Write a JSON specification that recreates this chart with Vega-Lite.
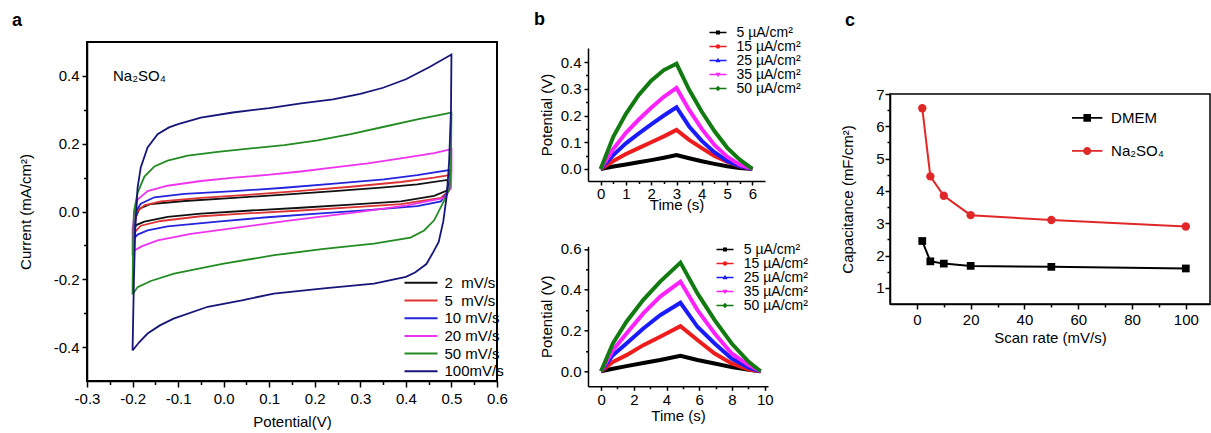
{
"$schema": "https://vega.github.io/schema/vega-lite/v6.json",
"background": "white",
"padding": {"left": 11, "top": 10, "right": 0, "bottom": 0},
"spacing": 25,
"columns": 3,
"config": {
 "font": "Liberation Sans",
 "view": {"stroke": null},
 "axis": {"grid": false, "domainColor": "#000", "domainWidth": 1.5, "tickColor": "#000", "tickWidth": 1.5, "labelColor": "#000", "titleColor": "#000", "labelFontSize": 15, "titleFontSize": 15, "titleFontWeight": "normal", "labelFont": "Liberation Sans", "titleFont": "Liberation Sans", "labelOverlap": false, "labelFlush": false},
 "legend": {"labelFont": "Liberation Sans", "labelFontSize": 15, "labelColor": "#000", "padding": 0, "offset": 0},
 "title": {"font": "Liberation Sans", "fontSize": 18, "fontWeight": "bold", "anchor": "start", "frame": "group", "color": "#000"}
},
"datasets": {
 "cv": [
  {"s":2,"o":0,"x":-0.196,"y":-0.05},{"s":2,"o":1,"x":-0.194,"y":-0.02},{"s":2,"o":2,"x":-0.185,"y":0.008},{"s":2,"o":3,"x":-0.16,"y":0.022},{"s":2,"o":4,"x":-0.086,"y":0.031},{"s":2,"o":5,"x":0.023,"y":0.04},{"s":2,"o":6,"x":0.133,"y":0.05},{"s":2,"o":7,"x":0.243,"y":0.06},{"s":2,"o":8,"x":0.352,"y":0.071},{"s":2,"o":9,"x":0.425,"y":0.08},{"s":2,"o":10,"x":0.491,"y":0.093},{"s":2,"o":11,"x":0.493,"y":0.08},{"s":2,"o":12,"x":0.49,"y":0.062},{"s":2,"o":13,"x":0.462,"y":0.046},{"s":2,"o":14,"x":0.389,"y":0.03},{"s":2,"o":15,"x":0.279,"y":0.02},{"s":2,"o":16,"x":0.169,"y":0.011},{"s":2,"o":17,"x":0.06,"y":0.003},{"s":2,"o":18,"x":-0.05,"y":-0.006},{"s":2,"o":19,"x":-0.123,"y":-0.016},{"s":2,"o":20,"x":-0.174,"y":-0.03},{"s":2,"o":21,"x":-0.192,"y":-0.04},{"s":2,"o":22,"x":-0.196,"y":-0.05},
  {"s":5,"o":0,"x":-0.196,"y":-0.062},{"s":5,"o":1,"x":-0.194,"y":-0.03},{"s":5,"o":2,"x":-0.19,"y":0.0},{"s":5,"o":3,"x":-0.174,"y":0.018},{"s":5,"o":4,"x":-0.138,"y":0.03},{"s":5,"o":5,"x":-0.05,"y":0.04},{"s":5,"o":6,"x":0.06,"y":0.05},{"s":5,"o":7,"x":0.169,"y":0.061},{"s":5,"o":8,"x":0.279,"y":0.073},{"s":5,"o":9,"x":0.389,"y":0.087},{"s":5,"o":10,"x":0.462,"y":0.1},{"s":5,"o":11,"x":0.499,"y":0.108},{"s":5,"o":12,"x":0.499,"y":0.09},{"s":5,"o":13,"x":0.495,"y":0.062},{"s":5,"o":14,"x":0.477,"y":0.04},{"s":5,"o":15,"x":0.389,"y":0.022},{"s":5,"o":16,"x":0.279,"y":0.012},{"s":5,"o":17,"x":0.169,"y":0.003},{"s":5,"o":18,"x":0.06,"y":-0.005},{"s":5,"o":19,"x":-0.05,"y":-0.014},{"s":5,"o":20,"x":-0.138,"y":-0.028},{"s":5,"o":21,"x":-0.182,"y":-0.042},{"s":5,"o":22,"x":-0.196,"y":-0.062},
  {"s":10,"o":0,"x":-0.197,"y":-0.08},{"s":10,"o":1,"x":-0.196,"y":-0.03},{"s":10,"o":2,"x":-0.193,"y":0.0},{"s":10,"o":3,"x":-0.182,"y":0.023},{"s":10,"o":4,"x":-0.152,"y":0.042},{"s":10,"o":5,"x":-0.086,"y":0.052},{"s":10,"o":6,"x":0.023,"y":0.06},{"s":10,"o":7,"x":0.133,"y":0.07},{"s":10,"o":8,"x":0.243,"y":0.082},{"s":10,"o":9,"x":0.352,"y":0.095},{"s":10,"o":10,"x":0.425,"y":0.107},{"s":10,"o":11,"x":0.495,"y":0.122},{"s":10,"o":12,"x":0.497,"y":0.1},{"s":10,"o":13,"x":0.495,"y":0.065},{"s":10,"o":14,"x":0.477,"y":0.03},{"s":10,"o":15,"x":0.425,"y":0.016},{"s":10,"o":16,"x":0.316,"y":0.004},{"s":10,"o":17,"x":0.206,"y":-0.006},{"s":10,"o":18,"x":0.096,"y":-0.017},{"s":10,"o":19,"x":-0.013,"y":-0.03},{"s":10,"o":20,"x":-0.123,"y":-0.044},{"s":10,"o":21,"x":-0.167,"y":-0.056},{"s":10,"o":22,"x":-0.189,"y":-0.068},{"s":10,"o":23,"x":-0.197,"y":-0.08},
  {"s":20,"o":0,"x":-0.2,"y":-0.13},{"s":20,"o":1,"x":-0.2,"y":-0.05},{"s":20,"o":2,"x":-0.195,"y":0.0},{"s":20,"o":3,"x":-0.189,"y":0.035},{"s":20,"o":4,"x":-0.167,"y":0.06},{"s":20,"o":5,"x":-0.123,"y":0.076},{"s":20,"o":6,"x":-0.05,"y":0.09},{"s":20,"o":7,"x":0.023,"y":0.1},{"s":20,"o":8,"x":0.096,"y":0.108},{"s":20,"o":9,"x":0.169,"y":0.118},{"s":20,"o":10,"x":0.243,"y":0.13},{"s":20,"o":11,"x":0.316,"y":0.142},{"s":20,"o":12,"x":0.389,"y":0.157},{"s":20,"o":13,"x":0.462,"y":0.172},{"s":20,"o":14,"x":0.5,"y":0.184},{"s":20,"o":15,"x":0.5,"y":0.12},{"s":20,"o":16,"x":0.499,"y":0.07},{"s":20,"o":17,"x":0.485,"y":0.04},{"s":20,"o":18,"x":0.454,"y":0.032},{"s":20,"o":19,"x":0.403,"y":0.018},{"s":20,"o":20,"x":0.294,"y":-0.002},{"s":20,"o":21,"x":0.147,"y":-0.026},{"s":20,"o":22,"x":0.038,"y":-0.046},{"s":20,"o":23,"x":-0.072,"y":-0.066},{"s":20,"o":24,"x":-0.145,"y":-0.085},{"s":20,"o":25,"x":-0.18,"y":-0.103},{"s":20,"o":26,"x":-0.196,"y":-0.115},{"s":20,"o":27,"x":-0.2,"y":-0.13},
  {"s":50,"o":0,"x":-0.2,"y":-0.245},{"s":50,"o":1,"x":-0.199,"y":-0.1},{"s":50,"o":2,"x":-0.197,"y":0.0},{"s":50,"o":3,"x":-0.189,"y":0.055},{"s":50,"o":4,"x":-0.174,"y":0.103},{"s":50,"o":5,"x":-0.152,"y":0.133},{"s":50,"o":6,"x":-0.123,"y":0.15},{"s":50,"o":7,"x":-0.079,"y":0.165},{"s":50,"o":8,"x":-0.013,"y":0.176},{"s":50,"o":9,"x":0.06,"y":0.186},{"s":50,"o":10,"x":0.133,"y":0.196},{"s":50,"o":11,"x":0.206,"y":0.21},{"s":50,"o":12,"x":0.279,"y":0.228},{"s":50,"o":13,"x":0.352,"y":0.25},{"s":50,"o":14,"x":0.425,"y":0.272},{"s":50,"o":15,"x":0.5,"y":0.292},{"s":50,"o":16,"x":0.499,"y":0.15},{"s":50,"o":17,"x":0.496,"y":0.07},{"s":50,"o":18,"x":0.484,"y":0.032},{"s":50,"o":19,"x":0.462,"y":-0.026},{"s":50,"o":20,"x":0.44,"y":-0.056},{"s":50,"o":21,"x":0.41,"y":-0.077},{"s":50,"o":22,"x":0.33,"y":-0.095},{"s":50,"o":23,"x":0.22,"y":-0.11},{"s":50,"o":24,"x":0.111,"y":-0.129},{"s":50,"o":25,"x":0.0,"y":-0.154},{"s":50,"o":26,"x":-0.109,"y":-0.183},{"s":50,"o":27,"x":-0.16,"y":-0.205},{"s":50,"o":28,"x":-0.189,"y":-0.223},{"s":50,"o":29,"x":-0.2,"y":-0.245},
  {"s":100,"o":0,"x":-0.2,"y":-0.41},{"s":100,"o":1,"x":-0.197,"y":-0.2},{"s":100,"o":2,"x":-0.194,"y":-0.05},{"s":100,"o":3,"x":-0.189,"y":0.07},{"s":100,"o":4,"x":-0.182,"y":0.13},{"s":100,"o":5,"x":-0.167,"y":0.189},{"s":100,"o":6,"x":-0.145,"y":0.228},{"s":100,"o":7,"x":-0.12,"y":0.248},{"s":100,"o":8,"x":-0.1,"y":0.258},{"s":100,"o":9,"x":-0.05,"y":0.277},{"s":100,"o":10,"x":0.02,"y":0.292},{"s":100,"o":11,"x":0.1,"y":0.305},{"s":100,"o":12,"x":0.17,"y":0.319},{"s":100,"o":13,"x":0.24,"y":0.331},{"s":100,"o":14,"x":0.3,"y":0.347},{"s":100,"o":15,"x":0.35,"y":0.365},{"s":100,"o":16,"x":0.4,"y":0.39},{"s":100,"o":17,"x":0.45,"y":0.425},{"s":100,"o":18,"x":0.5,"y":0.463},{"s":100,"o":19,"x":0.499,"y":0.3},{"s":100,"o":20,"x":0.495,"y":0.15},{"s":100,"o":21,"x":0.49,"y":0.05},{"s":100,"o":22,"x":0.482,"y":-0.03},{"s":100,"o":23,"x":0.472,"y":-0.09},{"s":100,"o":24,"x":0.46,"y":-0.12},{"s":100,"o":25,"x":0.445,"y":-0.155},{"s":100,"o":26,"x":0.42,"y":-0.18},{"s":100,"o":27,"x":0.4,"y":-0.193},{"s":100,"o":28,"x":0.33,"y":-0.213},{"s":100,"o":29,"x":0.22,"y":-0.227},{"s":100,"o":30,"x":0.11,"y":-0.242},{"s":100,"o":31,"x":0.04,"y":-0.262},{"s":100,"o":32,"x":-0.035,"y":-0.281},{"s":100,"o":33,"x":-0.11,"y":-0.316},{"s":100,"o":34,"x":-0.14,"y":-0.336},{"s":100,"o":35,"x":-0.167,"y":-0.36},{"s":100,"o":36,"x":-0.185,"y":-0.385},{"s":100,"o":37,"x":-0.2,"y":-0.41}
 ],
 "g1": [
  {"s":5,"t":0,"v":0},{"s":5,"t":0.5,"v":0.009},{"s":5,"t":1,"v":0.017},{"s":5,"t":1.5,"v":0.025},{"s":5,"t":2,"v":0.033},{"s":5,"t":2.5,"v":0.042},{"s":5,"t":3,"v":0.052},{"s":5,"t":3.5,"v":0.04},{"s":5,"t":4,"v":0.029},{"s":5,"t":4.5,"v":0.019},{"s":5,"t":5,"v":0.01},{"s":5,"t":5.5,"v":0.004},{"s":5,"t":6,"v":0},
  {"s":15,"t":0,"v":0},{"s":15,"t":0.5,"v":0.03},{"s":15,"t":1,"v":0.056},{"s":15,"t":1.5,"v":0.078},{"s":15,"t":2,"v":0.1},{"s":15,"t":2.5,"v":0.122},{"s":15,"t":3,"v":0.146},{"s":15,"t":3.5,"v":0.109},{"s":15,"t":4,"v":0.078},{"s":15,"t":4.5,"v":0.049},{"s":15,"t":5,"v":0.027},{"s":15,"t":5.5,"v":0.01},{"s":15,"t":6,"v":0},
  {"s":25,"t":0,"v":0},{"s":25,"t":0.5,"v":0.052},{"s":25,"t":1,"v":0.096},{"s":25,"t":1.5,"v":0.132},{"s":25,"t":2,"v":0.167},{"s":25,"t":2.5,"v":0.2},{"s":25,"t":3,"v":0.231},{"s":25,"t":3.5,"v":0.159},{"s":25,"t":4,"v":0.105},{"s":25,"t":4.5,"v":0.063},{"s":25,"t":5,"v":0.03},{"s":25,"t":5.5,"v":0.011},{"s":25,"t":6,"v":0},
  {"s":35,"t":0,"v":0},{"s":35,"t":0.5,"v":0.075},{"s":35,"t":1,"v":0.135},{"s":35,"t":1.5,"v":0.184},{"s":35,"t":2,"v":0.229},{"s":35,"t":2.5,"v":0.27},{"s":35,"t":3,"v":0.303},{"s":35,"t":3.5,"v":0.221},{"s":35,"t":4,"v":0.15},{"s":35,"t":4.5,"v":0.09},{"s":35,"t":5,"v":0.046},{"s":35,"t":5.5,"v":0.016},{"s":35,"t":6,"v":0},
  {"s":50,"t":0,"v":0},{"s":50,"t":0.5,"v":0.12},{"s":50,"t":1,"v":0.206},{"s":50,"t":1.5,"v":0.276},{"s":50,"t":2,"v":0.33},{"s":50,"t":2.5,"v":0.37},{"s":50,"t":3,"v":0.394},{"s":50,"t":3.5,"v":0.296},{"s":50,"t":4,"v":0.214},{"s":50,"t":4.5,"v":0.142},{"s":50,"t":5,"v":0.08},{"s":50,"t":5.5,"v":0.035},{"s":50,"t":6,"v":0}
 ],
 "g2": [
  {"s":5,"t":0,"v":0},{"s":5,"t":0.72,"v":0.012},{"s":5,"t":1.55,"v":0.025},{"s":5,"t":2.58,"v":0.04},{"s":5,"t":3.61,"v":0.055},{"s":5,"t":4.85,"v":0.076},{"s":5,"t":5.89,"v":0.055},{"s":5,"t":6.94,"v":0.038},{"s":5,"t":7.98,"v":0.02},{"s":5,"t":9.02,"v":0.007},{"s":5,"t":9.75,"v":0},
  {"s":15,"t":0,"v":0},{"s":15,"t":0.72,"v":0.046},{"s":15,"t":1.55,"v":0.079},{"s":15,"t":2.58,"v":0.128},{"s":15,"t":3.61,"v":0.169},{"s":15,"t":4.85,"v":0.221},{"s":15,"t":5.89,"v":0.153},{"s":15,"t":6.94,"v":0.087},{"s":15,"t":7.98,"v":0.038},{"s":15,"t":9.02,"v":0.008},{"s":15,"t":9.75,"v":0},
  {"s":25,"t":0,"v":0},{"s":25,"t":0.72,"v":0.079},{"s":25,"t":1.55,"v":0.136},{"s":25,"t":2.58,"v":0.21},{"s":25,"t":3.61,"v":0.275},{"s":25,"t":4.85,"v":0.336},{"s":25,"t":5.89,"v":0.218},{"s":25,"t":6.94,"v":0.136},{"s":25,"t":7.98,"v":0.062},{"s":25,"t":9.02,"v":0.018},{"s":25,"t":9.75,"v":0},
  {"s":35,"t":0,"v":0},{"s":35,"t":0.72,"v":0.103},{"s":35,"t":1.55,"v":0.185},{"s":35,"t":2.58,"v":0.284},{"s":35,"t":3.61,"v":0.366},{"s":35,"t":4.85,"v":0.44},{"s":35,"t":5.89,"v":0.3},{"s":35,"t":6.94,"v":0.185},{"s":35,"t":7.98,"v":0.087},{"s":35,"t":9.02,"v":0.03},{"s":35,"t":9.75,"v":0},
  {"s":50,"t":0,"v":0},{"s":50,"t":0.72,"v":0.136},{"s":50,"t":1.55,"v":0.243},{"s":50,"t":2.58,"v":0.35},{"s":50,"t":3.61,"v":0.44},{"s":50,"t":4.85,"v":0.533},{"s":50,"t":5.89,"v":0.382},{"s":50,"t":6.94,"v":0.251},{"s":50,"t":7.98,"v":0.136},{"s":50,"t":9.02,"v":0.046},{"s":50,"t":9.75,"v":0}
 ],
 "cap": [
  {"m":"DMEM","r":2,"c":2.45},{"m":"DMEM","r":5,"c":1.82},{"m":"DMEM","r":10,"c":1.75},{"m":"DMEM","r":20,"c":1.68},{"m":"DMEM","r":50,"c":1.65},{"m":"DMEM","r":100,"c":1.6},
  {"m":"Na₂SO₄","r":2,"c":6.56},{"m":"Na₂SO₄","r":5,"c":4.45},{"m":"Na₂SO₄","r":10,"c":3.85},{"m":"Na₂SO₄","r":20,"c":3.25},{"m":"Na₂SO₄","r":50,"c":3.1},{"m":"Na₂SO₄","r":100,"c":2.9}
 ]
},
"resolve": {"scale": {"color": "independent", "shape": "independent", "stroke": "independent"}, "legend": {"color": "independent", "shape": "independent"}},
"concat": [
 {"spacing": 0, "resolve": {"scale": {"color": "independent"}, "legend": {"color": "independent"}}, "vconcat": [
  {"width": 1, "height": 1, "data": {"values": [{}]}, "mark": {"type": "point", "size": 0, "opacity": 0}},
  {
   "width": 410, "height": 339,
   "title": {"text": "a", "dx": -75, "offset": 12},
   "view": {"stroke": "#000", "strokeWidth": 2},
   "resolve": {"axis": {"x": "independent", "y": "independent"}},
   "layer": [
    {
     "data": {"name": "cv"},
     "mark": {"type": "line", "strokeWidth": 1.8},
     "encoding": {
      "x": {"field": "x", "type": "quantitative", "scale": {"domain": [-0.3, 0.6], "nice": false, "zero": false},
            "axis": {"orient": "bottom", "values": [-0.3,-0.2,-0.1,0,0.1,0.2,0.3,0.4,0.5,0.6], "format": ".1f", "labelExpr": "replace(datum.label, '−', '-')", "tickSize": 6, "labelPadding": 4, "title": "Potential(V)", "titlePadding": 8}},
      "y": {"field": "y", "type": "quantitative", "scale": {"domain": [-0.5, 0.5], "nice": false, "zero": false},
            "axis": {"orient": "left", "values": [-0.4,-0.2,0,0.2,0.4], "format": ".1f", "labelExpr": "replace(datum.label, '−', '-')", "tickSize": 5, "labelPadding": 3, "title": "Current (mA/cm²)", "titlePadding": 20}},
      "color": {"field": "s", "type": "nominal", "scale": {"domain": [2,5,10,20,50,100], "range": ["#111111","#dd3333","#2424dd","#ee33ee","#228b22","#16167a"]},
            "legend": {"title": null, "orient": "none", "legendX": 326.5, "legendY": 233.3, "symbolType": "M-3,0H3", "symbolSize": 121, "symbolStrokeWidth": 2, "labelOffset": 16, "rowPadding": 1.7,
                       "labelExpr": "datum.value == 100 ? '100mV/s' : datum.value < 10 ? '\u00a0' + datum.value + '\u00a0\u00a0mV/s' : datum.value + '\u00a0mV/s'"}},
      "order": {"field": "o", "type": "quantitative"}
     }
    },
    {
     "data": {"name": "cv"},
     "mark": {"type": "point", "opacity": 0},
     "encoding": {
      "x": {"field": "x", "type": "quantitative", "scale": {"domain": [-0.3, 0.6], "nice": false, "zero": false},
            "axis": {"orient": "bottom", "values": [-0.25,-0.15,-0.05,0.05,0.15,0.25,0.35,0.45,0.55], "labels": false, "domain": false, "tickSize": 3.5, "title": null}},
      "y": {"field": "y", "type": "quantitative", "scale": {"domain": [-0.5, 0.5], "nice": false, "zero": false},
            "axis": {"orient": "left", "values": [-0.3,-0.1,0.1,0.3], "labels": false, "domain": false, "tickSize": 3.5, "title": null}}
     }
    },
    {
     "data": {"values": [{}]},
     "mark": {"type": "text", "align": "left", "baseline": "middle", "fontSize": 15, "color": "#000"},
     "encoding": {"x": {"datum": -0.243, "type": "quantitative", "axis": null}, "y": {"datum": 0.4, "type": "quantitative", "axis": null}, "text": {"value": "Na₂SO₄"}}
    }
   ]
  }
 ]},
 {"spacing": 0, "vconcat": [
  {"width": 1, "height": 1, "data": {"values": [{}]}, "mark": {"type": "point", "size": 0, "opacity": 0}},
  {"vconcat": [
  {
   "width": 177, "height": 133,
   "title": {"text": "b", "dx": -54, "offset": -3.6},
   "resolve": {"axis": {"x": "independent", "y": "independent"}},
   "layer": [
    {
     "data": {"name": "g1"},
     "mark": {"type": "line", "strokeWidth": 4},
     "encoding": {
      "x": {"field": "t", "type": "quantitative", "scale": {"domain": [-0.5, 6.5], "nice": false, "zero": false},
            "axis": {"orient": "bottom", "values": [0,1,2,3,4,5,6], "format": "d", "tickSize": 4, "labelPadding": 1, "title": "Time (s)", "titlePadding": -4}},
      "y": {"field": "v", "type": "quantitative", "scale": {"domain": [-0.045, 0.4525], "nice": false, "zero": false},
            "axis": {"orient": "left", "values": [0,0.1,0.2,0.3,0.4], "format": ".1f", "tickSize": 4, "labelPadding": 3, "title": "Potential (V)", "titlePadding": 6}},
      "stroke": {"field": "s", "type": "nominal", "scale": {"range": ["#000000","#ee1c1c","#1a1aff","#ff22ff","#117a11"]}, "legend": null}
     }
    },
    {
     "data": {"name": "g1"},
     "mark": {"type": "point", "filled": true, "opacity": 0},
     "encoding": {
      "x": {"field": "t", "type": "quantitative", "scale": {"domain": [-0.5, 6.5], "nice": false, "zero": false},
            "axis": {"orient": "bottom", "values": [0.5,1.5,2.5,3.5,4.5,5.5], "labels": false, "domain": false, "tickSize": 2.5, "title": null}},
      "y": {"field": "v", "type": "quantitative", "scale": {"domain": [-0.045, 0.4525], "nice": false, "zero": false},
            "axis": {"orient": "left", "values": [0.05,0.15,0.25,0.35], "labels": false, "domain": false, "tickSize": 2.5, "title": null}},
      "color": {"field": "s", "type": "nominal", "scale": {"domain": [5,15,25,35,50], "range": ["#000000","#ee1c1c","#1a1aff","#ff22ff","#117a11"]},
            "legend": {"title": null, "orient": "none", "legendX": 123, "legendY": -22.5, "symbolSize": 100, "symbolOpacity": 1, "labelOffset": 11.5, "rowPadding": -10, "labelFontSize": 14,
                       "labelExpr": "(datum.value < 10 ? '\u00a0\u00a0' : '') + datum.value + ' µA/cm²'"}},
      "shape": {"field": "s", "type": "nominal", "scale": {"domain": [5,15,25,35,50], "range": [
        "M-1.7,-0.15H1.7V0.15H-1.7Z M-0.4,-0.4H0.4V0.4H-0.4Z",
        "M-1.7,-0.15H1.7V0.15H-1.7Z M0.45,0A0.45,0.45,0,1,1,-0.45,0A0.45,0.45,0,1,1,0.45,0Z",
        "M-1.7,-0.15H1.7V0.15H-1.7Z M0,-0.55L0.5,0.35L-0.5,0.35Z",
        "M-1.7,-0.15H1.7V0.15H-1.7Z M-0.5,-0.35L0.5,-0.35L0,0.55Z",
        "M-1.7,-0.15H1.7V0.15H-1.7Z M0,-0.55L0.55,0L0,0.55L-0.55,0Z"]},
            "legend": {"title": null, "orient": "none", "legendX": 123, "legendY": -22.5, "symbolSize": 100, "symbolOpacity": 1, "labelOffset": 11.5, "rowPadding": -10, "labelFontSize": 14,
                       "labelExpr": "(datum.value < 10 ? '\u00a0\u00a0' : '') + datum.value + ' µA/cm²'"}}
     }
    }
   ]
  },
  {
   "width": 180, "height": 140,
   "resolve": {"axis": {"x": "independent", "y": "independent"}},
   "layer": [
    {
     "data": {"name": "g2"},
     "mark": {"type": "line", "strokeWidth": 4},
     "encoding": {
      "x": {"field": "t", "type": "quantitative", "scale": {"domain": [-0.8, 10.2], "nice": false, "zero": false},
            "axis": {"orient": "bottom", "values": [0,2,4,6,8,10], "format": "d", "tickSize": 4, "labelPadding": 2, "title": "Time (s)", "titlePadding": 1}},
      "y": {"field": "v", "type": "quantitative", "scale": {"domain": [-0.074, 0.613], "nice": false, "zero": false},
            "axis": {"orient": "left", "values": [0,0.2,0.4,0.6], "format": ".1f", "tickSize": 4, "labelPadding": 3, "title": "Potential (V)", "titlePadding": 6}},
      "stroke": {"field": "s", "type": "nominal", "scale": {"range": ["#000000","#ee1c1c","#1a1aff","#ff22ff","#117a11"]}, "legend": null}
     }
    },
    {
     "data": {"name": "g2"},
     "mark": {"type": "point", "filled": true, "opacity": 0},
     "encoding": {
      "x": {"field": "t", "type": "quantitative", "scale": {"domain": [-0.8, 10.2], "nice": false, "zero": false},
            "axis": {"orient": "bottom", "values": [1,3,5,7,9], "labels": false, "domain": false, "tickSize": 2.5, "title": null}},
      "y": {"field": "v", "type": "quantitative", "scale": {"domain": [-0.074, 0.613], "nice": false, "zero": false},
            "axis": {"orient": "left", "values": [0.1,0.3,0.5], "labels": false, "domain": false, "tickSize": 2.5, "title": null}},
      "color": {"field": "s", "type": "nominal", "scale": {"domain": [5,15,25,35,50], "range": ["#000000","#ee1c1c","#1a1aff","#ff22ff","#117a11"]},
            "legend": {"title": null, "orient": "none", "legendX": 124, "legendY": -9.7, "padding": 6, "symbolSize": 100, "symbolOpacity": 1, "labelOffset": 11.8, "rowPadding": -10, "labelFontSize": 14,
                       "labelExpr": "(datum.value < 10 ? '\u00a0\u00a0' : '') + datum.value + ' µA/cm²'"}},
      "shape": {"field": "s", "type": "nominal", "scale": {"domain": [5,15,25,35,50], "range": [
        "M-1.7,-0.15H1.7V0.15H-1.7Z M-0.4,-0.4H0.4V0.4H-0.4Z",
        "M-1.7,-0.15H1.7V0.15H-1.7Z M0.45,0A0.45,0.45,0,1,1,-0.45,0A0.45,0.45,0,1,1,0.45,0Z",
        "M-1.7,-0.15H1.7V0.15H-1.7Z M0,-0.55L0.5,0.35L-0.5,0.35Z",
        "M-1.7,-0.15H1.7V0.15H-1.7Z M-0.5,-0.35L0.5,-0.35L0,0.55Z",
        "M-1.7,-0.15H1.7V0.15H-1.7Z M0,-0.55L0.55,0L0,0.55L-0.55,0Z"]},
            "legend": {"title": null, "orient": "none", "legendX": 124, "legendY": -9.7, "padding": 6, "symbolSize": 100, "symbolOpacity": 1, "labelOffset": 11.8, "rowPadding": -10, "labelFontSize": 14,
                       "labelExpr": "(datum.value < 10 ? '\u00a0\u00a0' : '') + datum.value + ' µA/cm²'"}}
     }
    }
   ]
  }
  ], "spacing": 24.3, "resolve": {"scale": {"color": "independent", "shape": "independent", "stroke": "independent"}, "legend": {"color": "independent", "shape": "independent"}}}
 ], "resolve": {"scale": {"color": "independent", "shape": "independent", "stroke": "independent"}, "legend": {"color": "independent", "shape": "independent"}}},
 {"spacing": 0, "resolve": {"scale": {"color": "independent", "shape": "independent", "stroke": "independent"}, "legend": {"color": "independent", "shape": "independent"}}, "vconcat": [
  {"width": 1, "height": 1, "data": {"values": [{}]}, "mark": {"type": "point", "size": 0, "opacity": 0}},
  {
   "width": 320, "height": 210,
   "title": {"text": "c", "dx": -45, "offset": 56.8},
   "view": {"stroke": "#000", "strokeWidth": 1.5},
   "resolve": {"axis": {"x": "independent", "y": "independent"}},
   "layer": [
    {
     "data": {"name": "cap"},
     "mark": {"type": "line", "strokeWidth": 2},
     "encoding": {
      "x": {"field": "r", "type": "quantitative", "scale": {"domain": [-10, 109], "nice": false, "zero": false},
            "axis": {"orient": "bottom", "values": [0,20,40,60,80,100], "tickSize": 5, "labelPadding": 3, "title": "Scan rate (mV/s)", "titlePadding": 3}},
      "y": {"field": "c", "type": "quantitative", "scale": {"domain": [0.5, 7], "nice": false, "zero": false},
            "axis": {"orient": "left", "values": [1,2,3,4,5,6,7], "tickSize": 5, "labelPadding": 1, "title": "Capacitance (mF/cm²)", "titlePadding": 20}},
      "stroke": {"field": "m", "type": "nominal", "scale": {"range": ["#000000","#e02828"]}, "legend": null}
     }
    },
    {
     "data": {"name": "cap"},
     "transform": [{"filter": "datum.m == 'DMEM'"}],
     "mark": {"type": "point", "shape": "square", "filled": true, "size": 60, "opacity": 1, "color": "#000000"},
     "encoding": {
      "x": {"field": "r", "type": "quantitative", "scale": {"domain": [-10, 109], "nice": false, "zero": false}, "axis": null},
      "y": {"field": "c", "type": "quantitative", "scale": {"domain": [0.5, 7], "nice": false, "zero": false}, "axis": null}
     }
    },
    {
     "data": {"name": "cap"},
     "transform": [{"filter": "datum.m != 'DMEM'"}],
     "mark": {"type": "point", "shape": "circle", "filled": true, "size": 70, "opacity": 1, "color": "#e02828"},
     "encoding": {
      "x": {"field": "r", "type": "quantitative", "scale": {"domain": [-10, 109], "nice": false, "zero": false}, "axis": null},
      "y": {"field": "c", "type": "quantitative", "scale": {"domain": [0.5, 7], "nice": false, "zero": false}, "axis": null}
     }
    },
    {
     "data": {"name": "cap"},
     "mark": {"type": "point", "filled": true, "opacity": 0},
     "encoding": {
      "x": {"field": "r", "type": "quantitative", "scale": {"domain": [-10, 109], "nice": false, "zero": false},
            "axis": {"orient": "bottom", "values": [10,30,50,70,90], "labels": false, "domain": false, "tickSize": 3, "title": null}},
      "y": {"field": "c", "type": "quantitative", "scale": {"domain": [0.5, 7], "nice": false, "zero": false},
            "axis": {"orient": "left", "values": [1.5,2.5,3.5,4.5,5.5,6.5], "labels": false, "domain": false, "tickSize": 3, "title": null}},
      "color": {"field": "m", "type": "nominal", "scale": {"domain": ["DMEM","Na₂SO₄"], "range": ["#000000","#e02828"]},
            "legend": {"title": null, "orient": "none", "legendX": 189.7, "legendY": 16.4, "symbolSize": 64, "symbolOpacity": 1, "labelOffset": 16.4, "rowPadding": 17}},
      "shape": {"field": "m", "type": "nominal", "scale": {"domain": ["DMEM","Na₂SO₄"], "range": [
        "M-3.8,-0.22H3.8V0.22H-3.8Z M-0.95,-0.95H0.95V0.95H-0.95Z",
        "M-3.8,-0.22H3.8V0.22H-3.8Z M1,0A1,1,0,1,1,-1,0A1,1,0,1,1,1,0Z"]},
            "legend": {"title": null, "orient": "none", "legendX": 189.7, "legendY": 16.4, "symbolSize": 64, "symbolOpacity": 1, "labelOffset": 16.4, "rowPadding": 17}}
     }
    }
   ]
  }
 ]}
]
}
